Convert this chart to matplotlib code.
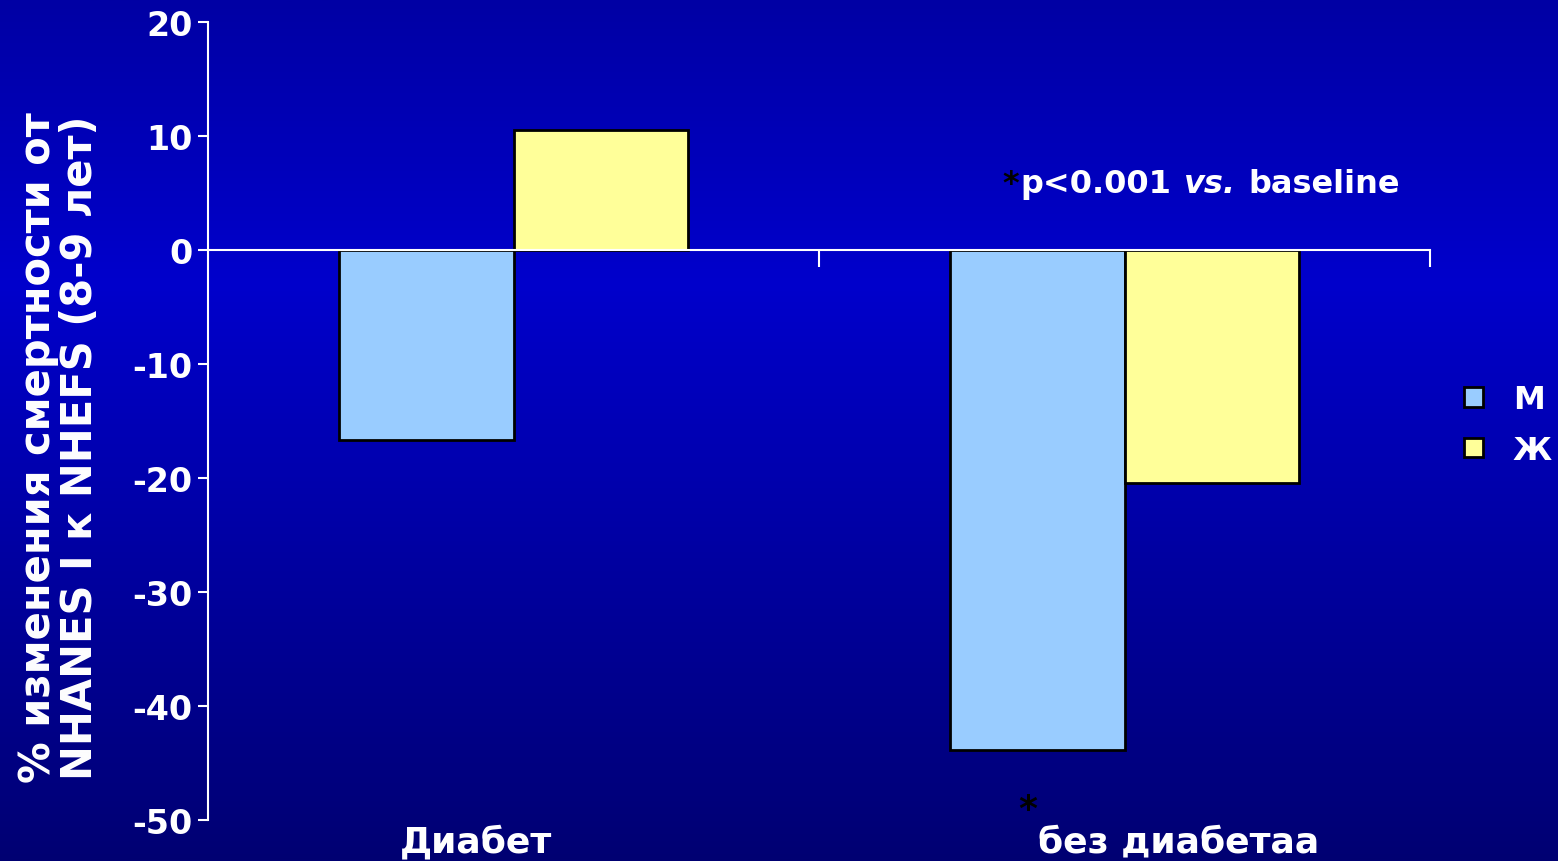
import numpy as np
import matplotlib
matplotlib.use("Agg")
import matplotlib.pyplot as plt
from matplotlib.colors import LinearSegmentedColormap

plt.rcParams['font.family'] = ['DejaVu Sans']
plt.rcParams['font.weight'] = 'bold'

# Data
categories = ["Диабет", "без диабетаа"]
series_names = ["М", "Ж"]
men_values = [-16.7, -43.9]
women_values = [10.5, -20.4]
y_ticks = [20, 10, 0, -10, -20, -30, -40, -50]
ylabel_text = "% изменения смертности от\nNHANES I к NHEFS (8-9 лет)"

bar_colors = ["#99CCFF", "#FFFF99"]
fs = 23

fig = plt.figure(figsize=(15.58, 8.62), dpi=100)

# Vertical blue gradient background
bg = fig.add_axes([0, 0, 1, 1], zorder=-10)
cmap = LinearSegmentedColormap.from_list(
    "bg", [(0.0, "#0000A4"), (0.33, "#0000CC"), (1.0, "#000072")])
grad = np.linspace(0, 1, 512).reshape(-1, 1)
bg.imshow(grad, aspect="auto", cmap=cmap, extent=[0, 1, 0, 1], origin="upper")
bg.set_axis_off()

ax = fig.add_axes([0.1335, 0.0476, 0.918 - 0.1335, 0.9733 - 0.0476])
ax.set_facecolor("none")

x = np.arange(len(categories))
w = 0.286
bars_m = ax.bar(x - w / 2, men_values, w, color=bar_colors[0], edgecolor="black",
                linewidth=2, label=series_names[0], zorder=3)
bars_w = ax.bar(x + w / 2, women_values, w, color=bar_colors[1], edgecolor="black",
                linewidth=2, label=series_names[1], zorder=3)

ax.set_xlim(-0.5, 1.5)
ax.set_ylim(-50, 20)

for s in ["top", "right"]:
    ax.spines[s].set_visible(False)
ax.spines["left"].set_color("white")
ax.spines["left"].set_linewidth(1.5)
ax.spines["bottom"].set_color("white")
ax.spines["bottom"].set_linewidth(1.5)
ax.spines["bottom"].set_position(("data", 0))
ax.spines["bottom"].set_zorder(4)

ax.set_yticks(y_ticks)
ax.set_yticklabels([str(v) for v in y_ticks])
ax.tick_params(axis="y", colors="white", labelsize=24, length=7, width=1.5,
               direction="out", pad=4)
ax.set_xticks([0.5, 1.5])
ax.set_xticklabels([])
ax.tick_params(axis="x", colors="white", length=12, width=1.5, direction="out")

# Category labels below the plot
cat_label_x = [-0.061, 1.089]
for cx, name in zip(cat_label_x, categories):
    ax.text(cx, -0.027, name, transform=ax.get_xaxis_transform(),
            ha="center", va="center", color="white", fontsize=26,
            fontweight="bold", clip_on=False)

# Y axis label
fig.text(0.038, 0.481, ylabel_text, rotation=90, ha="center", va="center",
         color="white", fontsize=30, fontweight="bold", linespacing=1.0)

# Significance note
t1 = ax.text(0.80, 5.1, "*", color="black", fontsize=fs, fontweight="bold",
             va="baseline", ha="left")
t2 = ax.annotate("p<0.001", xy=(1, 0), xycoords=t1, xytext=(1, 0),
                 textcoords="offset points", color="white", fontsize=fs,
                 fontweight="bold", va="bottom", ha="left")
t3 = ax.annotate("vs.", xy=(1, 0), xycoords=t2, xytext=(9, 0),
                 textcoords="offset points", color="white", fontsize=fs,
                 fontweight="bold", style="italic", va="bottom", ha="left")
t4 = ax.annotate("baseline", xy=(1, 0), xycoords=t3, xytext=(9, 0),
                 textcoords="offset points", color="white", fontsize=fs,
                 fontweight="bold", va="bottom", ha="left")

# Asterisk under the significant bar
ax.text(0.842, -49.0, "*", color="black", fontsize=26, fontweight="bold",
        ha="center", va="center", clip_on=False)

leg = fig.legend(handles=[bars_m, bars_w], labels=series_names,
                 loc="center left", bbox_to_anchor=(0.9397, 0.506),
                 bbox_transform=fig.transFigure, frameon=False,
                 borderpad=0, borderaxespad=0,
                 fontsize=23, handlelength=0.58, handleheight=0.58,
                 handletextpad=0.95, labelspacing=0.62, labelcolor="white")
for h in leg.legend_handles:
    h.set_linewidth(2)

fig.savefig("out.png", dpi=100)
